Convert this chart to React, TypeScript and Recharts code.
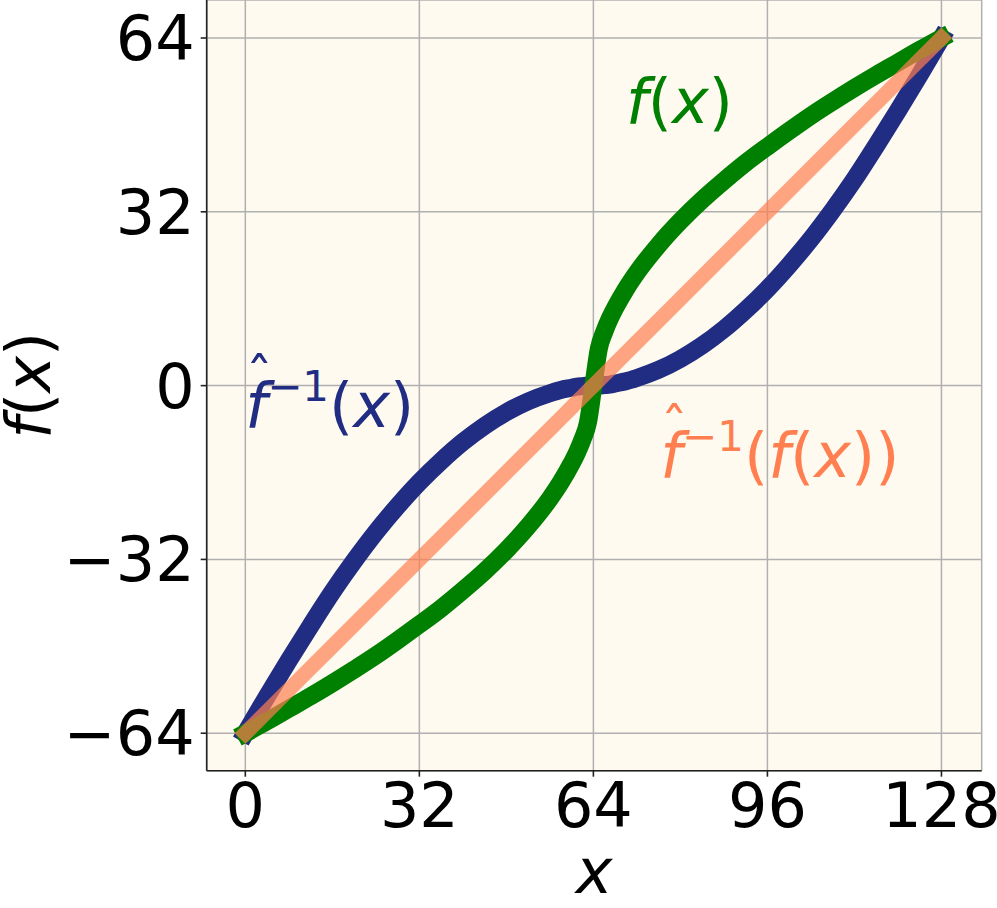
import React from "react";
import { LineChart, Line, XAxis, YAxis, CartesianGrid, ReferenceDot } from "recharts";

// sample positions along x
const xValues = [
  0, 4, 8, 12, 16, 20, 24, 28, 32, 36, 40, 44, 48, 52, 56, 58, 60, 61, 62, 63, 64,
  65, 66, 67, 68, 70, 72, 76, 80, 84, 88, 92, 96, 100, 104, 108, 112, 116, 120, 124, 128,
];

// green: f(x)
const fValues = [
  -64, -61.8, -59.5, -57.2, -54.8, -52.3, -49.7, -46.9, -44.0, -41.0, -37.7, -34.2, -30.3, -25.9, -20.8, -17.8, -14.3, -12.3, -9.9, -6.8, 0,
  6.8, 9.9, 12.3, 14.3, 17.8, 20.8, 25.9, 30.3, 34.2, 37.7, 41.0, 44.0, 46.9, 49.7, 52.3, 54.8, 57.2, 59.5, 61.8, 64,
];

// blue: estimated inverse
const fInvValues = [
  -64, -57.2, -50.6, -44.2, -38.0, -32.3, -27.0, -22.2, -17.8, -13.9, -10.4, -7.4, -4.9, -2.9, -1.4, -0.8, -0.4, -0.2, -0.1, 0, 0,
  0, 0.1, 0.2, 0.4, 0.8, 1.4, 2.9, 4.9, 7.4, 10.4, 13.9, 17.8, 22.2, 27.0, 32.3, 38.0, 44.2, 50.6, 57.2, 64,
];

// orange: inverse applied to f
const roundTripValues = [
  -64, -60, -56, -52, -48, -44, -40, -36, -32, -28, -24, -20, -16, -12, -8, -6, -4, -3, -2, -1, 0,
  1, 2, 3, 4, 6, 8, 12, 16, 20, 24, 28, 32, 36, 40, 44, 48, 52, 56, 60, 64,
];

const xTicks = [0, 32, 64, 96, 128];
const yTicks = [-64, -32, 0, 32, 64];

const BLUE = "#212d83";
const GREEN = "#008000";
const CORAL = "#ff7f50";
const FONT = "DejaVu Sans";
const FS = 62;
const SUP = 42;
const RAISE = 26;

const data = xValues.map((x, i) => ({
  x,
  f: fValues[i],
  inv: fInvValues[i],
  rt: roundTripValues[i],
}));

const fmt = (v: number) => (v < 0 ? `\u2212${-v}` : `${v}`);

// the hat sitting over the italic f
function Hat({ x, y, color }: { x: number; y: number; color: string }) {
  return (
    <text x={x + 14} y={y - 31} fontSize={54} fontFamily={FONT} fill={color} textAnchor="middle">
      {"\u02C6"}
    </text>
  );
}

function GreenLabel(props: any) {
  const { x, y } = props.viewBox;
  return (
    <text x={x} y={y} fontSize={FS} fontFamily={FONT} fill={GREEN}>
      <tspan fontStyle="italic">f</tspan>
      <tspan>(</tspan>
      <tspan fontStyle="italic">x</tspan>
      <tspan>)</tspan>
    </text>
  );
}

function BlueLabel(props: any) {
  const { x, y } = props.viewBox;
  return (
    <g>
      <Hat x={x} y={y} color={BLUE} />
      <text x={x} y={y} fontSize={FS} fontFamily={FONT} fill={BLUE}>
        <tspan fontStyle="italic">f</tspan>
        <tspan fontSize={SUP} dy={-RAISE}>{"\u22121"}</tspan>
        <tspan dy={RAISE}>(</tspan>
        <tspan fontStyle="italic">x</tspan>
        <tspan>)</tspan>
      </text>
    </g>
  );
}

function CoralLabel(props: any) {
  const { x, y } = props.viewBox;
  return (
    <g>
      <Hat x={x} y={y} color={CORAL} />
      <text x={x} y={y} fontSize={FS} fontFamily={FONT} fill={CORAL}>
        <tspan fontStyle="italic">f</tspan>
        <tspan fontSize={SUP} dy={-RAISE}>{"\u22121"}</tspan>
        <tspan dy={RAISE}>(</tspan>
        <tspan fontStyle="italic">f</tspan>
        <tspan>(</tspan>
        <tspan fontStyle="italic">x</tspan>
        <tspan>))</tspan>
      </text>
    </g>
  );
}

function XLabel(props: any) {
  const { x, y, width } = props.viewBox;
  return (
    <text x={x + width / 2} y={y + 122} fontSize={FS} fontFamily={FONT} fontStyle="italic" textAnchor="middle" fill="#000">
      x
    </text>
  );
}

function YLabel(props: any) {
  const { y, height } = props.viewBox;
  const cy = y + height / 2;
  return (
    <text x={50} y={cy} fontSize={FS} fontFamily={FONT} textAnchor="middle" fill="#000" transform={`rotate(-90 50 ${cy})`}>
      <tspan fontStyle="italic">f</tspan>
      <tspan>(</tspan>
      <tspan fontStyle="italic">x</tspan>
      <tspan>)</tspan>
    </text>
  );
}

const tickStyle = { fontSize: FS, fill: "#000", fontFamily: FONT };
const xDomain: [number, number] = [-7.1, 135.4];
const yDomain: [number, number] = [-70.9, 71.0];

export default function App() {
  return (
    <div style={{ position: "absolute", left: 0, top: 0, background: "#fff" }}>
      <LineChart width={997} height={908} data={data} margin={{ top: 0, right: 15.3, bottom: 0, left: 0 }}>
        <CartesianGrid fill="#fffaf0" stroke="#b0b0b0" strokeWidth={1.5} />
        <XAxis
          dataKey="x"
          type="number"
          domain={xDomain}
          ticks={xTicks}
          allowDataOverflow
          height={137.3}
          tickSize={6}
          tickMargin={6}
          tick={tickStyle}
          tickFormatter={fmt}
          stroke="#222"
          strokeWidth={1.6}
          tickLine={{ stroke: "#222", strokeWidth: 1.6 }}
          label={{ content: XLabel }}
        />
        <XAxis xAxisId="top" orientation="top" dataKey="x" type="number" domain={xDomain} allowDataOverflow height={0} tick={false} tickLine={false} stroke="#222" strokeWidth={1.6} />
        <YAxis
          type="number"
          domain={yDomain}
          ticks={yTicks}
          allowDataOverflow
          width={206.7}
          tickSize={6}
          tickMargin={6}
          tick={tickStyle}
          tickFormatter={fmt}
          stroke="#222"
          strokeWidth={1.6}
          tickLine={{ stroke: "#222", strokeWidth: 1.6 }}
          label={{ content: YLabel }}
        />
        <YAxis yAxisId="right" orientation="right" type="number" domain={yDomain} allowDataOverflow width={0} tick={false} tickLine={false} stroke="#222" strokeWidth={1.6} />
        <Line dataKey="inv" type="monotone" stroke={BLUE} strokeWidth={18} strokeLinecap="square" strokeLinejoin="round" dot={false} activeDot={false} isAnimationActive={false} />
        <Line dataKey="f" type="monotone" stroke={GREEN} strokeWidth={18} strokeLinecap="square" strokeLinejoin="round" dot={false} activeDot={false} isAnimationActive={false} />
        <Line dataKey="rt" type="linear" stroke={CORAL} strokeOpacity={0.7} strokeWidth={15} strokeLinecap="square" strokeLinejoin="round" dot={false} activeDot={false} isAnimationActive={false} />
        <ReferenceDot x={70.0} y={48.4} r={0} fill="none" stroke="none" ifOverflow="visible" label={{ content: GreenLabel }} />
        <ReferenceDot x={0.0} y={-7.6} r={0} fill="none" stroke="none" ifOverflow="visible" label={{ content: BlueLabel }} />
        <ReferenceDot x={76.3} y={-16.85} r={0} fill="none" stroke="none" ifOverflow="visible" label={{ content: CoralLabel }} />
      </LineChart>
    </div>
  );
}
